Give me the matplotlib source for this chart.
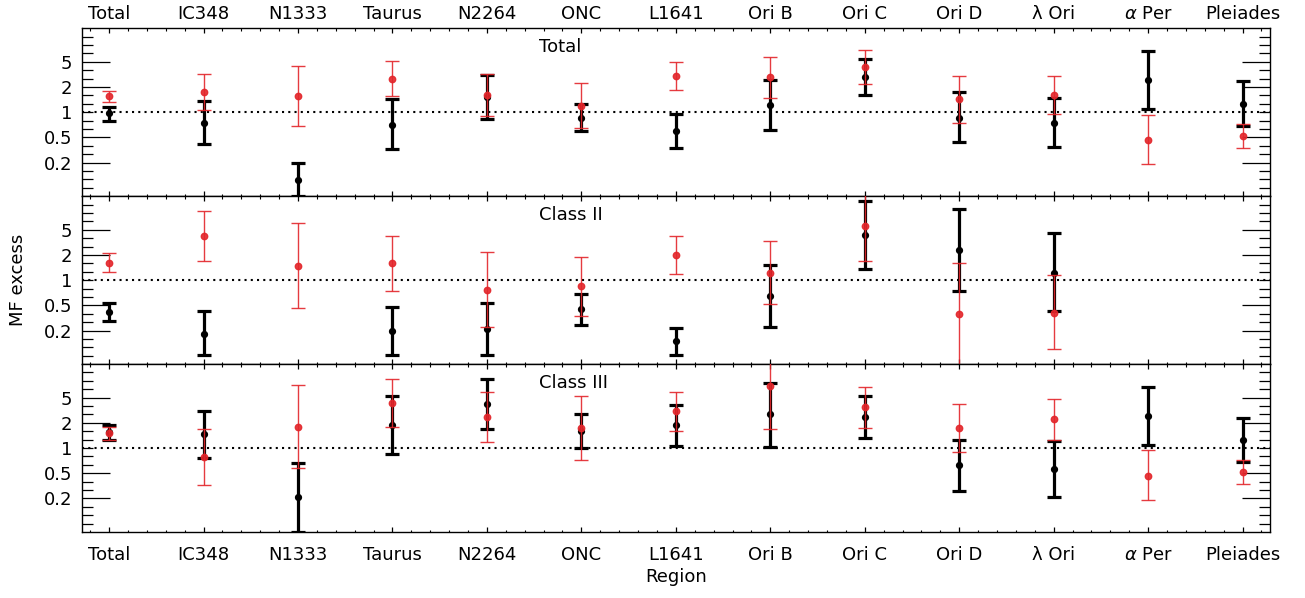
import numpy as np
import matplotlib
matplotlib.use('Agg')
import matplotlib.pyplot as plt
from matplotlib.ticker import FixedLocator, MultipleLocator, NullFormatter

# --- DATA ---
regions = ['Total', 'IC348', 'N1333', 'Taurus', 'N2264', 'ONC', 'L1641',
           'Ori B', 'Ori C', 'Ori D', 'λ Ori', r'$\alpha$ Per', 'Pleiades']
nan = np.nan

# panel 1: Total
tot_blk_val = [0.97, 0.75, 0.158, 0.71, 1.53, 0.86, 0.60, 1.21, 2.66, 0.86, 0.75, 2.40, 1.26]
tot_blk_lo = [0.79, 0.42, 0.10, 0.36, 0.84, 0.59, 0.38, 0.62, 1.62, 0.44, 0.39, 1.09, 0.68]
tot_blk_hi = [1.16, 1.35, 0.25, 1.44, 2.79, 1.26, 0.96, 2.40, 4.36, 1.72, 1.47, 5.32, 2.34]
tot_red_val = [1.55, 1.75, 1.57, 2.52, 1.59, 1.20, 2.71, 2.61, 3.47, 1.42, 1.62, 0.47, 0.52]
tot_red_lo = [1.33, 1.07, 0.69, 1.57, 0.90, 0.65, 1.86, 1.48, 2.15, 0.74, 0.96, 0.24, 0.38]
tot_red_hi = [1.80, 2.83, 3.53, 4.05, 2.83, 2.21, 3.94, 4.57, 5.53, 2.68, 2.73, 0.93, 0.73]

# panel 2: Class II
c2_blk_val = [0.42, 0.23, nan, 0.25, 0.26, 0.45, 0.19, 0.64, 3.45, 2.29, 1.23, nan, nan]
c2_blk_lo = [0.33, 0.128, nan, 0.13, 0.13, 0.29, 0.13, 0.28, 1.34, 0.74, 0.43, nan, nan]
c2_blk_hi = [0.53, 0.43, nan, 0.48, 0.53, 0.69, 0.27, 1.50, 8.8, 7.07, 3.61, nan, nan]
c2_red_val = [1.62, 3.32, 1.48, 1.58, 0.77, 0.85, 2.01, 1.23, 4.47, 0.40, 0.41, nan, nan]
c2_red_lo = [1.26, 1.67, 0.46, 0.74, 0.28, 0.37, 1.19, 0.52, 1.67, 0.098, 0.15, nan, nan]
c2_red_hi = [2.10, 6.68, 4.75, 3.32, 2.16, 1.91, 3.32, 2.95, 12.0, 1.61, 1.14, nan, nan]

# panel 3: Class III
c3_blk_val = [1.54, 1.46, 0.26, 1.90, 3.37, 1.61, 1.86, 2.52, 2.34, 0.62, 0.56, 2.41, 1.25]
c3_blk_lo = [1.24, 0.77, 0.10, 0.86, 1.68, 1.01, 1.05, 1.04, 1.31, 0.31, 0.26, 1.09, 0.68]
c3_blk_hi = [1.88, 2.78, 0.67, 4.17, 6.64, 2.56, 3.28, 6.01, 4.20, 1.25, 1.21, 5.38, 2.28]
c3_red_val = [1.51, 0.79, 1.79, 3.47, 2.34, 1.73, 2.74, 5.48, 3.08, 1.72, 2.20, 0.47, 0.52]
c3_red_lo = [1.25, 0.36, 0.58, 1.77, 1.17, 0.72, 1.58, 1.67, 1.75, 0.89, 1.25, 0.24, 0.37]
c3_red_hi = [1.79, 1.70, 5.59, 6.64, 4.65, 4.17, 4.69, 18.0, 5.38, 3.32, 3.84, 0.95, 0.72]

panel_titles = ['Total', 'Class II', 'Class III']
ytick_vals = [10**-0.6, 10**-0.3, 1.0, 10**0.3, 10**0.6]
ytick_labels = ['0.2', '0.5', '1', '2', '5']

RED = '#e3262b'
FS = 13

plt.rcParams['font.family'] = ['DejaVu Sans']
plt.rcParams['font.size'] = FS

fig = plt.figure(figsize=(13.05, 5.98), dpi=100)

W, H = 1305.0, 598.0
left, right = 81.7, 1270.0
top, bottom = 28.3, 532.0
ph = (bottom - top) / 3.0

panels = [
    (tot_blk_val, tot_blk_lo, tot_blk_hi, tot_red_val, tot_red_lo, tot_red_hi),
    (c2_blk_val, c2_blk_lo, c2_blk_hi, c2_red_val, c2_red_lo, c2_red_hi),
    (c3_blk_val, c3_blk_lo, c3_blk_hi, c3_red_val, c3_red_lo, c3_red_hi),
]

x = np.arange(len(regions))


def draw_bars(ax, val, lo, hi, **kw):
    val, lo, hi = np.array(val), np.array(lo), np.array(hi)
    ok = np.isfinite(val)
    ax.errorbar(x[ok], val[ok], yerr=[val[ok] - lo[ok], hi[ok] - val[ok]],
                fmt='o', linestyle='none', **kw)


for i, (bv, bl, bh, rv, rl, rh) in enumerate(panels):
    # panels stacked from the top down
    y_bot = top + (i + 1) * ph
    ax = fig.add_axes([left / W, 1 - y_bot / H, (right - left) / W, ph / H])
    ax.set_yscale('log')
    ax.set_ylim(0.1, 10)
    ax.set_xlim(-0.29, 12.29)

    ax.axhline(1.0, color='k', lw=1.5, linestyle=(0, (1, 2)), zorder=1)

    draw_bars(ax, bv, bl, bh, color='k', ms=4.2, elinewidth=2.3,
              capsize=5, capthick=2.3, zorder=2)
    draw_bars(ax, rv, rl, rh, color=RED, ms=4.6, elinewidth=1.0,
              capsize=5, capthick=1.0, zorder=3, alpha=0.9)

    ax.text(0.385, 0.89, panel_titles[i], transform=ax.transAxes,
            ha='left', va='center', fontsize=FS)

    # y ticks: evenly spaced minor ticks every 0.1 dex
    ax.yaxis.set_major_locator(FixedLocator(ytick_vals))
    ax.set_yticklabels(ytick_labels)
    ax.yaxis.set_minor_locator(FixedLocator([10**(k / 10) for k in range(-9, 10)]))
    ax.yaxis.set_minor_formatter(NullFormatter())
    ax.tick_params(axis='y', which='major', direction='in', length=20,
                   width=0.9, left=True, right=True, pad=7, labelsize=FS)
    ax.tick_params(axis='y', which='minor', direction='in', length=8,
                   width=0.9, left=True, right=True)
    # the tick at 1 is short
    ax.yaxis.get_major_ticks()[2].tick1line.set_markersize(8)
    ax.yaxis.get_major_ticks()[2].tick2line.set_markersize(8)

    ax.xaxis.set_major_locator(FixedLocator(x))
    ax.xaxis.set_minor_locator(MultipleLocator(0.2))
    ax.set_xticklabels(regions)
    ax.tick_params(axis='x', which='major', direction='in', length=3.5,
                   width=0.9, top=True, bottom=True, labelsize=FS,
                   labeltop=(i == 0), labelbottom=(i == 2),
                   pad=(4 if i == 0 else 10))
    ax.tick_params(axis='x', which='minor', direction='in', length=1.8,
                   width=0.8, top=True, bottom=True)

    for s in ax.spines.values():
        s.set_linewidth(1.0)

    if i == 1:
        ax.set_ylabel('MF excess', fontsize=FS, labelpad=12)
    if i == 2:
        ax.set_xlabel('Region', fontsize=FS, labelpad=3)

fig.savefig('out.png', dpi=100)
